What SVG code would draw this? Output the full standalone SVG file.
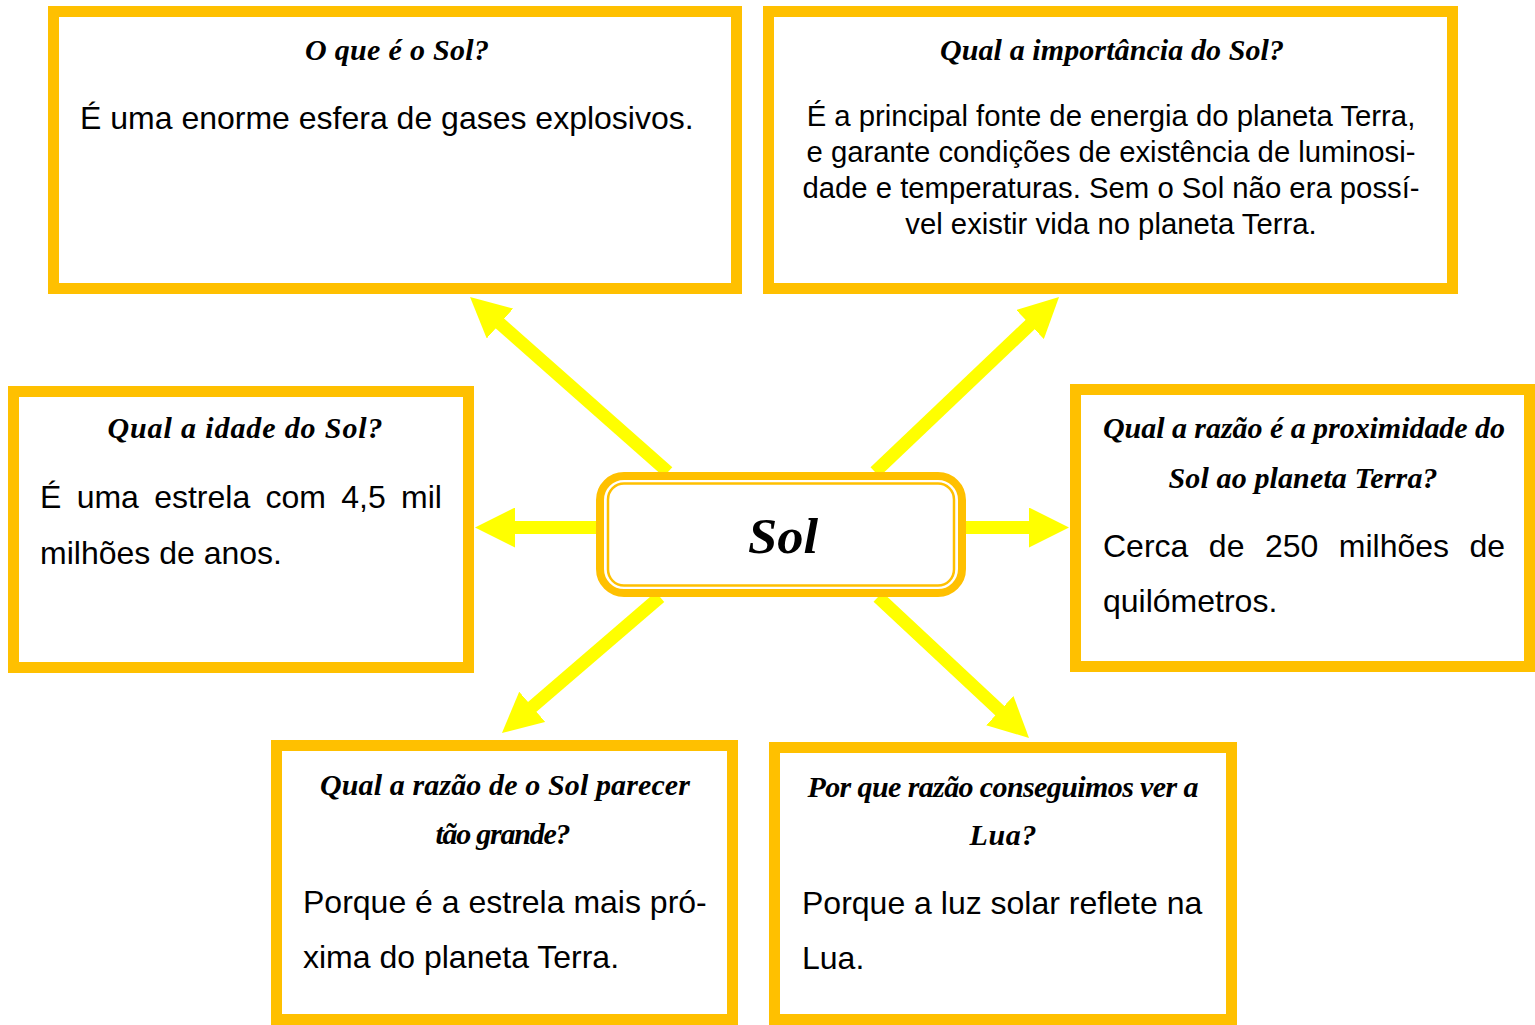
<svg xmlns="http://www.w3.org/2000/svg" width="1535" height="1025" viewBox="0 0 1535 1025">
  <style>
    .box { fill: #FFFFFF; stroke: #FFC000; stroke-width: 11; }
    .arrow { stroke: #FFFF00; stroke-width: 13; fill: none; marker-end: url(#ah); }
    .title { font-family: "Liberation Serif", "DejaVu Serif", serif; font-style: italic; font-weight: bold; font-size: 30px; fill: #000; text-anchor: middle; }
    .body { font-family: "Liberation Sans", Arial, sans-serif; font-size: 32px; fill: #000; }
    .body2 { font-family: "Liberation Sans", Arial, sans-serif; font-size: 29.3px; fill: #000; text-anchor: middle; }
  </style>
  <defs>
    <marker id="ah" viewBox="0 0 40 40" refX="10" refY="20" markerWidth="40" markerHeight="40" markerUnits="userSpaceOnUse" orient="auto">
      <path d="M0,0 L40,20 L0,40 Z" fill="#FFFF00"/>
    </marker>
  </defs>
  <rect width="1535" height="1025" fill="#FFFFFF"/>

  <g id="connectors">
    <line class="arrow" x1="668" y1="472" x2="492.5" y2="316.9"/>
    <line class="arrow" x1="875" y1="472" x2="1037.3" y2="317.7"/>
    <line class="arrow" x1="660" y1="597" x2="524.7" y2="713.4"/>
    <line class="arrow" x1="878" y1="597" x2="1007.1" y2="717.5"/>
    <line class="arrow" x1="600" y1="527.5" x2="505" y2="527.5"/>
    <line class="arrow" x1="962" y1="527.5" x2="1039" y2="527.5"/>
  </g>

  <g id="center">
    <rect x="600" y="476" width="362" height="117" rx="24" fill="#FFFFFF" stroke="#FFC000" stroke-width="8"/>
    <rect x="608" y="483.5" width="346" height="102" rx="16" fill="none" stroke="#FFC000" stroke-width="2.5"/>
    <text x="783" y="553" font-family="Liberation Serif, DejaVu Serif, serif" font-style="italic" font-weight="bold" font-size="50" text-anchor="middle" textLength="70" lengthAdjust="spacingAndGlyphs">Sol</text>
  </g>

  <g id="box1">
    <rect class="box" x="53.5" y="11.5" width="683" height="277"/>
    <text class="title" x="397" y="60" textLength="184">O que é o Sol?</text>
    <text class="body" x="80" y="129">É uma enorme esfera de gases explosivos.</text>
  </g>

  <g id="box2">
    <rect class="box" x="768.5" y="11.5" width="684" height="277"/>
    <text class="title" x="1112" y="60" textLength="344">Qual a importância do Sol?</text>
    <text class="body2" x="1111" y="126">É a principal fonte de energia do planeta Terra,</text>
    <text class="body2" x="1111" y="162">e garante condições de existência de luminosi-</text>
    <text class="body2" x="1111" y="198">dade e temperaturas. Sem o Sol não era possí-</text>
    <text class="body2" x="1111" y="234">vel existir vida no planeta Terra.</text>
  </g>

  <g id="box3">
    <rect class="box" x="13.5" y="391.5" width="455" height="276"/>
    <text class="title" x="245" y="438" textLength="275">Qual a idade do Sol?</text>
    <text class="body" x="40" y="508" word-spacing="6.4">É uma estrela com 4,5 mil</text>
    <text class="body" x="40" y="564">milhões de anos.</text>
  </g>

  <g id="box4">
    <rect class="box" x="1075.5" y="389.5" width="454" height="277"/>
    <text class="title" x="1304" y="438" textLength="402">Qual a razão é a proximidade do</text>
    <text class="title" x="1303" y="488" textLength="269">Sol ao planeta Terra?</text>
    <text class="body" x="1103" y="557" word-spacing="11.6">Cerca de 250 milhões de</text>
    <text class="body" x="1103" y="612">quilómetros.</text>
  </g>

  <g id="box5">
    <rect class="box" x="276.5" y="745.5" width="456" height="274"/>
    <text class="title" x="505" y="795" textLength="370">Qual a razão de o Sol parecer</text>
    <text class="title" x="503" y="844" textLength="135">tão grande?</text>
    <text class="body" x="303" y="913">Porque é a estrela mais pró-</text>
    <text class="body" x="303" y="968">xima do planeta Terra.</text>
  </g>

  <g id="box6">
    <rect class="box" x="774.5" y="747.5" width="457" height="272"/>
    <text class="title" x="1003" y="797" textLength="391">Por que razão conseguimos ver a</text>
    <text class="title" x="1003" y="845" textLength="67">Lua?</text>
    <text class="body" x="802" y="914">Porque a luz solar reflete na</text>
    <text class="body" x="802" y="969">Lua.</text>
  </g>
</svg>
